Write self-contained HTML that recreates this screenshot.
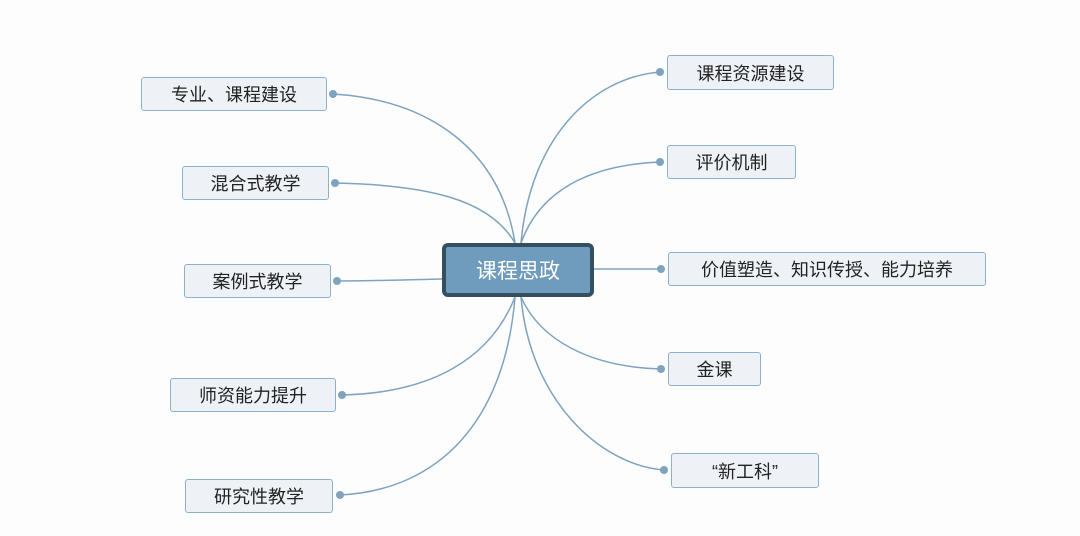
<!DOCTYPE html>
<html><head><meta charset="utf-8"><style>
html,body{margin:0;padding:0;background:#fdfdfe;}
body{width:1080px;height:536px;position:relative;overflow:hidden;font-family:"Liberation Sans","Noto Sans CJK SC",sans-serif;}
.n{position:absolute;box-sizing:border-box;background:#eef2f7;border:1.5px solid #8fb0cc;border-radius:3px;font-size:18px;color:#222;display:flex;align-items:center;justify-content:center;}
.c{position:absolute;left:442px;top:243px;width:152px;height:54px;box-sizing:border-box;background:#6f9bbd;border:4px solid #344f60;border-radius:6px;color:#fff;font-size:21px;display:flex;align-items:center;justify-content:center;}
svg{position:absolute;left:0;top:0;}
</style></head><body>
<svg width="1080" height="536">
<g fill="none" stroke="#7fa3bf" stroke-width="1.5">
<path d="M515 243 C500 150 430 100 333 94"/>
<path d="M515 243 C490 200 430 185 335 183"/>
<path d="M442 279 C400 280 370 281 337 281"/>
<path d="M515 297 C490 360 430 393 342 395"/>
<path d="M515 297 C505 420 440 490 340 495"/>
<path d="M521 243 C530 140 590 78 660 72"/>
<path d="M521 243 C540 190 590 165 660 162"/>
<path d="M594 269 C620 269 640 269 661 269"/>
<path d="M521 297 C540 340 590 367 661 369"/>
<path d="M521 297 C530 400 600 465 664 470"/>
</g>
<g fill="#7fa3bf">
<circle cx="333" cy="94" r="4"/><circle cx="335" cy="183" r="4"/><circle cx="337" cy="281" r="4"/><circle cx="342" cy="395" r="4"/><circle cx="340" cy="495" r="4"/>
<circle cx="660" cy="72" r="4"/><circle cx="660" cy="162" r="4"/><circle cx="661" cy="269" r="4"/><circle cx="661" cy="369" r="4"/><circle cx="664" cy="470" r="4"/>
</g>
</svg>
<div class="c">课程思政</div>
<div class="n" style="left:141px;top:77px;width:186px;height:34px">专业、课程建设</div>
<div class="n" style="left:182px;top:166px;width:147px;height:34px">混合式教学</div>
<div class="n" style="left:184px;top:264px;width:147px;height:34px">案例式教学</div>
<div class="n" style="left:170px;top:378px;width:166px;height:34px">师资能力提升</div>
<div class="n" style="left:185px;top:479px;width:148px;height:34px">研究性教学</div>
<div class="n" style="left:667px;top:55px;width:167px;height:35px">课程资源建设</div>
<div class="n" style="left:667px;top:145px;width:129px;height:34px">评价机制</div>
<div class="n" style="left:668px;top:252px;width:318px;height:34px">价值塑造、知识传授、能力培养</div>
<div class="n" style="left:668px;top:352px;width:93px;height:34px">金课</div>
<div class="n" style="left:671px;top:453px;width:148px;height:35px">“新工科”</div>
</body></html>
